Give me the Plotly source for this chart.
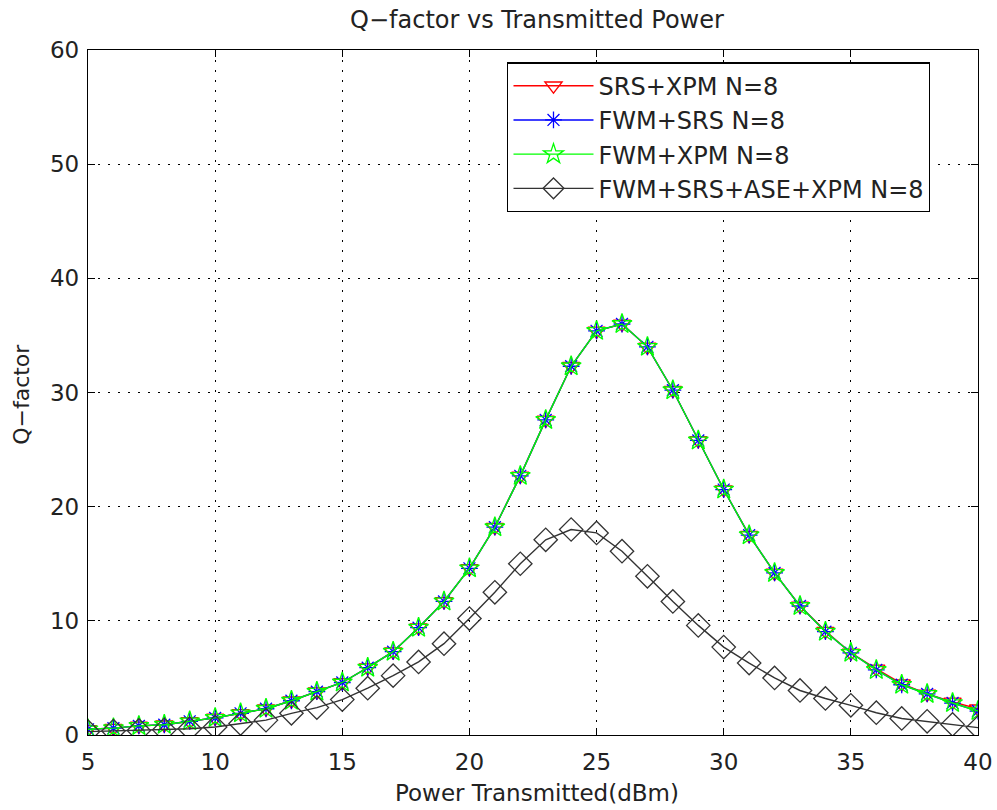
import plotly.graph_objects as go

power = list(range(5, 41))

q_srs_xpm = [0.5, 0.6, 0.8, 0.9, 1.2, 1.5, 1.9, 2.3, 3.0, 3.8, 4.6, 5.9, 7.3, 9.4, 11.7, 14.6,
             18.2, 22.7, 27.6, 32.3, 35.4, 36.0, 34.0, 30.2, 25.8, 21.5, 17.5, 14.2, 11.3, 9.1,
             7.2, 5.8, 4.5, 3.6, 2.9, 2.3]
q_fwm_srs = [0.5, 0.6, 0.8, 0.9, 1.2, 1.5, 1.9, 2.3, 3.0, 3.8, 4.6, 5.9, 7.3, 9.4, 11.7, 14.6,
             18.2, 22.7, 27.6, 32.3, 35.4, 36.0, 34.0, 30.2, 25.8, 21.5, 17.5, 14.2, 11.3, 9.05,
             7.2, 5.7, 4.4, 3.6, 2.8, 2.1]
q_fwm_xpm = [0.5, 0.6, 0.8, 0.9, 1.2, 1.5, 1.9, 2.3, 3.0, 3.8, 4.6, 5.9, 7.3, 9.4, 11.7, 14.6,
             18.2, 22.7, 27.6, 32.3, 35.4, 36.0, 34.0, 30.2, 25.8, 21.5, 17.5, 14.2, 11.3, 9.05,
             7.2, 5.7, 4.4, 3.6, 2.8, 2.1]
q_all = [0.3, 0.35, 0.4, 0.45, 0.55, 0.7, 1.0, 1.3, 1.9, 2.4, 3.1, 4.1, 5.2, 6.4, 8.0, 10.2,
         12.5, 15.0, 17.1, 18.0, 17.7, 16.1, 13.9, 11.7, 9.6, 7.7, 6.3, 5.0, 3.9, 3.2,
         2.6, 1.95, 1.45, 1.2, 0.93, 0.65]

names = ["SRS+XPM N=8", "FWM+SRS N=8", "FWM+XPM N=8", "FWM+SRS+ASE+XPM N=8"]
series = [q_srs_xpm, q_fwm_srs, q_fwm_xpm, q_all]
colors = ["#ff0000", "#0000ff", "#00ff00", "#333333"]
symbols = ["triangle-down-open", "asterisk-open", "star-open", "diamond-open"]
sizes = [15, 14, 15, 18]

FONT = "DejaVu Sans, Arial, sans-serif"

fig = go.Figure()
for n, s, c, sym, sz in zip(names, series, colors, symbols, sizes):
    fig.add_trace(go.Scatter(
        x=power, y=s, name=n, mode="lines+markers",
        line=dict(color=c, width=1.4),
        marker=dict(symbol=sym, size=sz, color=c, line=dict(color=c, width=1.3)),
    ))

axis_common = dict(
    showline=True, linecolor="black", linewidth=1.3, mirror="allticks",
    ticks="inside", ticklen=7, tickcolor="black",
    showgrid=True, gridcolor="black", griddash="2px,8px", gridwidth=1,
    zeroline=False, tickfont=dict(size=23, color="#222222"),
    automargin=False, ticklabeloverflow="allow",
)

fig.update_layout(
    width=997, height=810,
    margin=dict(l=88, r=19, t=50, b=75),
    paper_bgcolor="white", plot_bgcolor="white",
    font=dict(family=FONT, color="#222222"),
    title=dict(text="Q\u2212factor vs Transmitted Power", x=0.5386, xanchor="center",
               xref="container", y=0.9753, yref="container", yanchor="middle",
               font=dict(size=24)),
    xaxis=dict(range=[5, 40], dtick=5, ticklabelstandoff=6, **axis_common),
    yaxis=dict(range=[0, 60], dtick=10, ticklabelstandoff=3, **axis_common),
    legend=dict(x=0.471, y=0.982, xanchor="left", yanchor="top",
                bgcolor="white", bordercolor="black", borderwidth=1.3,
                font=dict(size=24), tracegroupgap=0, itemwidth=80),
    showlegend=True,
    annotations=[
        dict(text="Power Transmitted(dBm)", xref="paper", yref="paper",
             x=0.504, y=-0.0847, xanchor="center", yanchor="middle",
             showarrow=False, font=dict(size=23, color="#222222")),
        dict(text="Q\u2212factor", xref="paper", yref="paper",
             x=-0.0742, y=0.498, xanchor="center", yanchor="middle", textangle=-90,
             showarrow=False, font=dict(size=22, color="#222222")),
    ],
)

fig.write_html("out.html", config={"displayModeBar": False},
               post_script="document.body.style.margin='0';document.body.style.overflow='hidden';")
